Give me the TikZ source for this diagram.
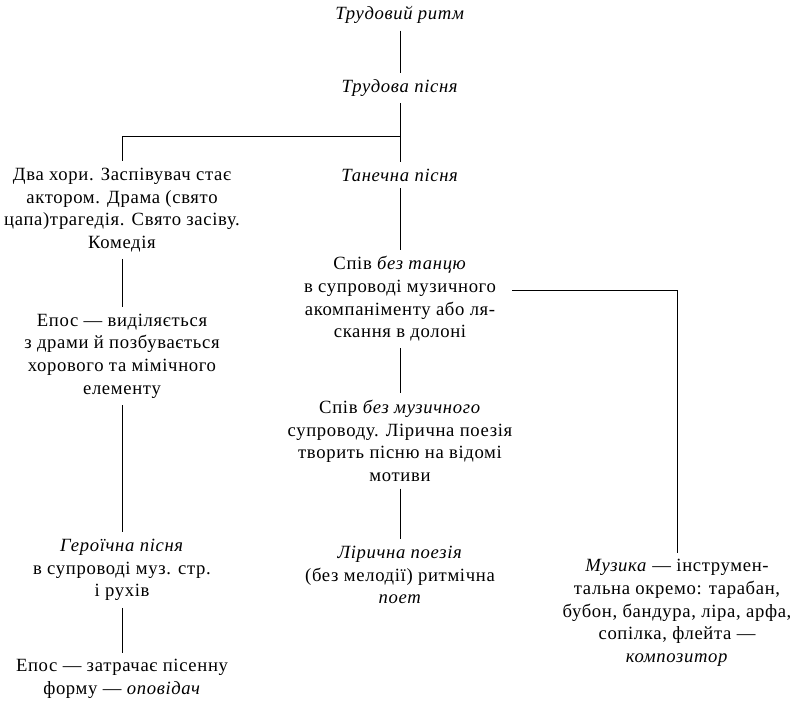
\documentclass[tikz,border=0pt]{standalone}
\usepackage{fontspec}
\setmainfont[LetterSpace=3.5]{Liberation Serif}

\begin{document}
\begin{tikzpicture}[
                x=0.75pt, y=-0.75pt,
                every node/.style={align=center, inner sep=5pt,
                    font=\fontsize{14}{17}\selectfont},
                link/.style={black, line width=0.6pt} ]

            \useasboundingbox (0,0) rectangle (792,701);

            \node (ritm)   at (400,15)  {\textit{Трудовий ритм}};
            \node (tpisnia) at (400,88) {\textit{Трудова пісня}};
            \node (tanech) at (400,175) {\textit{Танечна пісня}};
            \node (spiv)   at (400,299) {Спів \textit{без танцю}\\
                в супроводі музичного\\ акомпаніменту або ля-\\ скання в долоні};
            \node (spivbez) at (400,441) {Спів \textit{без музичного}\\
                супроводу. Лірична поезія\\ творить пісню на відомі\\ мотиви};
            \node (liryka) at (400,575) {\textit{Лірична поезія}\\
                (без мелодії) ритмічна\\ \textit{поет}};

            \node (drama)  at (122,210) {Два хори. Заспівувач стає\\
                актором. Драма (свято\\ цапа)трагедія. Свято засіву.\\ Комедія};
            \node (epos)   at (122,356) {Епос — виділяється\\
                з драми й позбувається\\ хорового та мімічного\\ елементу};
            \node (heroika) at (122,570) {\textit{Героїчна пісня}\\
                в супроводі муз. стр.\\ і рухів};
            \node (epos2)  at (122,679) {Епос — затрачає пісенну\\
                форму — \textit{оповідач}};

            \node (muzyka) at (677,613) {\textit{Музика} — інструмен-\\
                тальна окремо: тарабан,\\ бубон, бандура, ліра, арфа,\\
                сопілка, флейта —\\ \textit{композитор}};

            \coordinate (lfork) at (400,136);
            \coordinate (rfork) at (512,290);

            \draw[link] (ritm) -- (tpisnia);
            \draw[link] (tpisnia) -- (tanech);
            \draw[link] (lfork) -| (drama);
            \draw[link] (tanech) -- (spiv);
            \draw[link] (spiv) -- (spivbez);
            \draw[link] (spivbez) -- (liryka);
            \draw[link] (rfork) -| (muzyka);

            \draw[link] (drama) -- (epos);
            \draw[link] (epos) -- (heroika);
            \draw[link] (heroika) -- (epos2);
        \end{tikzpicture}
\end{document}
